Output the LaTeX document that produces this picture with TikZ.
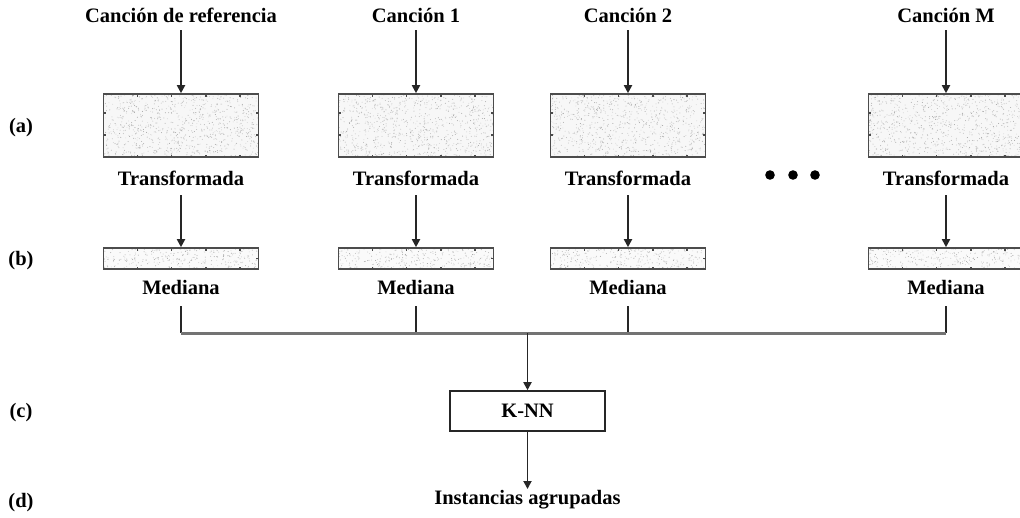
\documentclass[tikz,border=0pt]{standalone}
\usepackage{fontspec}
\setmainfont{Liberation Serif}
\usetikzlibrary{arrows.meta,calc}

% speckled spectrogram-like fill with small edge ticks
\newcommand{\specks}[3]{% width, height, count
  \foreach \i in {1,...,#3}{%
    \pgfmathsetmacro\px{rnd}\pgfmathsetmacro\py{rnd}%
    \pgfmathsetmacro\sh{12+26*rnd}%
    \fill[black!\sh] ($(path picture bounding box.north west)+(\px*#1,\py*#2)$) circle (0.5);
  }%
  \foreach \t in {0.22,0.44,0.66,0.88}{%
    \draw[black!70,line width=1.4pt] ($(path picture bounding box.north west)+(\t*#1,0)$) -- ++(0,2.5);
    \draw[black!70,line width=1.4pt] ($(path picture bounding box.south west)+(\t*#1,0)$) -- ++(0,-2.5);
  }%
}

\begin{document}
\begin{tikzpicture}[x=1pt,y=-1pt,
  lbl/.style={font=\bfseries\fontsize{20.5}{24}\selectfont, inner sep=0pt},
  bigbox/.style={draw=black!70, line width=1.6pt, fill=black!3, minimum width=155, minimum height=63, inner sep=0pt,
    path picture={\specks{155}{63}{900}
      \foreach \s in {0.3,0.65}{%
        \draw[black!70,line width=1.4pt] ($(path picture bounding box.north west)+(0,\s*63)$) -- ++(2.5,0);
        \draw[black!70,line width=1.4pt] ($(path picture bounding box.north east)+(0,\s*63)$) -- ++(-2.5,0);}}},
  smallbox/.style={draw=black!70, line width=1.6pt, fill=black!2, minimum width=155, minimum height=21, inner sep=0pt,
    path picture={\specks{155}{21}{300}
      \draw[black!70,line width=1.4pt] ($(path picture bounding box.north east)+(0,10.5)$) -- ++(-2.5,0);}},
  knnbox/.style={draw=black!85, line width=1.6pt, minimum width=155, minimum height=40, inner sep=0pt,
    font=\bfseries\fontsize{20.5}{24}\selectfont},
  arr/.style={draw=black!85, line width=1.8pt, -{Triangle[length=8pt,width=8pt]}},
  bar/.style={draw=black!85, line width=2pt},
  hbar/.style={draw=black!55, line width=3pt}
]
\useasboundingbox (0,0) rectangle (1020,517);
\pgfmathsetseed{4217}

% row labels
\node[lbl] (ra) at (21,128) {(a)};
\node[lbl] (rb) at (21,261) {(b)};
\node[lbl] (rc) at (21,413) {(c)};
\node[lbl] (rd) at (21,503) {(d)};

% columns
\foreach \n/\x/\t in {c1/181/Canción de referencia, c2/416/Canción 1, c3/628/Canción 2, c4/946/Canción M}{
  \node[lbl] (\n-in) at (\x,15) {\t};
  \coordinate (\n-s) at (\x,30);
  \node[bigbox] (\n-tf) at (\x,125.5) {};
  \node[lbl] (\n-tl) at (\x,178) {Transformada};
  \coordinate (\n-s2) at (\x,195);
  \node[smallbox] (\n-md) at (\x,258.5) {};
  \node[lbl] (\n-ml) at (\x,287) {Mediana};
  \coordinate (\n-b0) at (\x,306);
  \coordinate (\n-b1) at (\x,333);
  \draw[arr] (\n-s) -- (\n-tf.north);
  \draw[arr] (\n-s2) -- (\n-md.north);
  \draw[bar] (\n-b0) -- (\n-b1);
}

% ellipsis between columns
\fill (770,175) circle (4.8);
\fill (793,175) circle (4.8);
\fill (815,175) circle (4.8);

% merge bar and classifier
\draw[hbar] (c1-b1) -- (c4-b1);
\coordinate (mid) at (527.5,333);
\node[knnbox] (knn) at (527.5,411) {K-NN};
\node[lbl] (out) at (527.5,500) {Instancias agrupadas};
\coordinate (outtop) at (527.5,489);
\draw[arr] (mid) -- (knn.north);
\draw[arr] (knn.south) -- (outtop);
\end{tikzpicture}
\end{document}
